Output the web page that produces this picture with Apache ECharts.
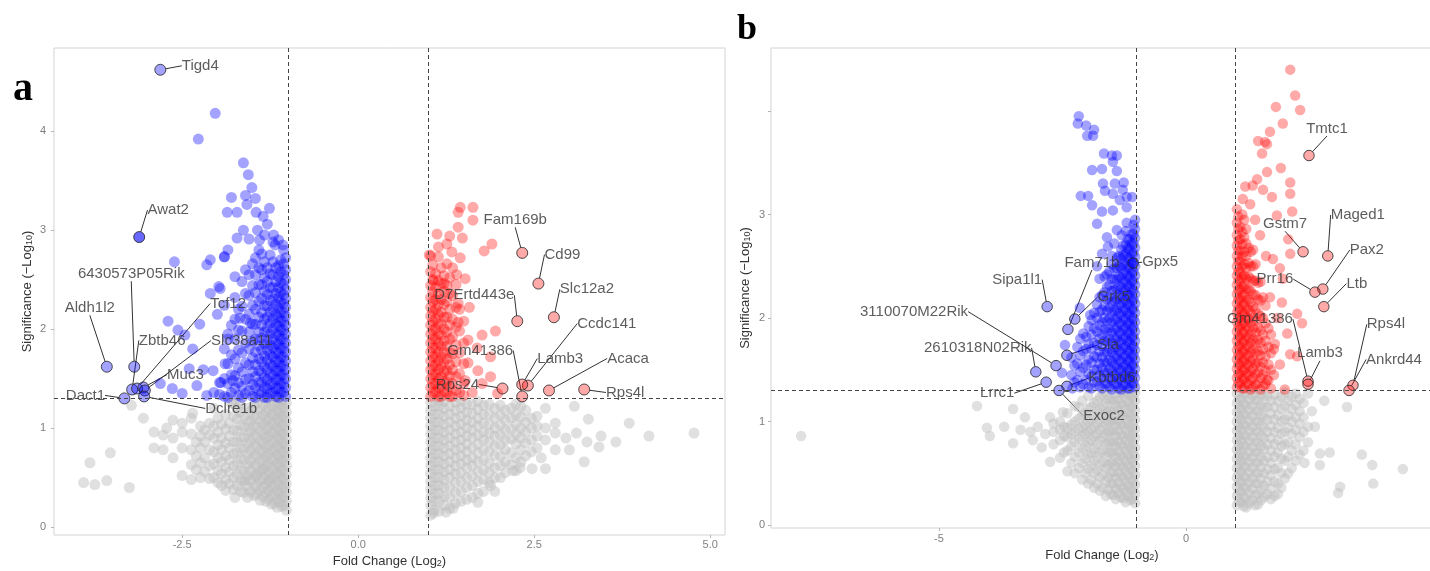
<!DOCTYPE html>
<html>
<head>
<meta charset="utf-8">
<title>Volcano plots</title>
<script src="https://cdn.jsdelivr.net/npm/echarts@6/dist/echarts.min.js"></script>
<style>
  html, body { margin: 0; padding: 0; background: #fff; }
  #chart { width: 1430px; height: 571px; }
</style>
</head>
<body>
<div id="chart"></div>
<script>
// cut-offs
const FC_CUT = 1;     // |log2 fold change|
const P_CUT = 1.3;    // -log10(0.05)

// ---------- panel a ----------
// dense clouds are written as [x, [y, y, ...]] columns
const greyColsA = [
  [-1.02, [0.17, 0.26, 0.35, 0.44, 0.53, 0.62, 0.71, 0.8, 0.89, 0.98, 1.07, 1.16, 1.25]],
  [-1.08, [0.21, 0.3, 0.4, 0.49, 0.58, 0.67, 0.76, 0.85, 0.94, 1.03, 1.12, 1.21, 1.28]],
  [-1.15, [0.2, 0.28, 0.37, 0.46, 0.55, 0.64, 0.73, 0.82, 0.91, 1.0, 1.09, 1.18, 1.26]],
  [-1.23, [0.23, 0.32, 0.41, 0.5, 0.6, 0.69, 0.78, 0.87, 0.96, 1.05, 1.14, 1.23]],
  [-1.31, [0.26, 0.35, 0.44, 0.53, 0.62, 0.71, 0.8, 0.9, 0.99, 1.08, 1.17, 1.27]],
  [-1.39, [0.27, 0.37, 0.47, 0.57, 0.67, 0.77, 0.87, 0.97, 1.07, 1.18]],
  [-1.48, [0.32, 0.42, 0.52, 0.62, 0.72, 0.82, 0.92, 1.02, 1.12, 1.22]],
  [-1.57, [0.3, 0.41, 0.52, 0.63, 0.74, 0.85, 0.96, 1.07, 1.2]],
  [-1.67, [0.36, 0.47, 0.58, 0.69, 0.8, 0.91, 1.03, 1.16]],
  [-1.77, [0.38, 0.5, 0.62, 0.74, 0.86, 0.98, 1.12, 1.25]],
  [-1.88, [0.37, 0.48, 0.6, 0.72, 0.85, 0.99, 1.14]],
  [-1.99, [0.45, 0.57, 0.7, 0.83, 0.96, 1.1]],
  [-2.11, [0.49, 0.62, 0.78, 0.93, 1.05]],
  [-2.24, [0.5, 0.65, 0.8, 0.92, 1.02]],
  [-2.37, [0.48, 0.63, 0.78, 0.94, 1.1]],
  [-2.5, [0.52, 0.8, 0.96, 1.05]],
  [-2.63, [0.7, 0.9, 1.08]],
  [-2.77, [0.78, 0.93]],
  [-2.9, [0.8, 0.96]],
  [1.03, [0.12, 0.22, 0.3, 0.38, 0.46, 0.54, 0.62, 0.7, 0.78, 0.86, 0.94, 1.02, 1.1, 1.18, 1.26]],
  [1.15, [0.16, 0.26, 0.34, 0.42, 0.5, 0.58, 0.66, 0.74, 0.82, 0.9, 0.98, 1.06, 1.14, 1.22, 1.28]],
  [1.3, [0.19, 0.3, 0.4, 0.5, 0.58, 0.66, 0.74, 0.82, 0.9, 0.98, 1.06, 1.14, 1.22]],
  [1.46, [0.26, 0.36, 0.46, 0.55, 0.64, 0.72, 0.8, 0.88, 0.96, 1.04, 1.12, 1.2, 1.27]],
  [1.62, [0.3, 0.42, 0.52, 0.62, 0.7, 0.8, 0.9, 0.98, 1.06, 1.15, 1.24]],
  [1.78, [0.36, 0.48, 0.58, 0.68, 0.78, 0.88, 0.96, 1.05, 1.14, 1.23]],
  [1.94, [0.36, 0.5, 0.6, 0.72, 0.82, 0.92, 1.0, 1.1, 1.2]],
  [2.09, [0.55, 0.66, 0.78, 0.88, 0.98, 1.08, 1.18]],
  [2.24, [0.57, 0.7, 0.84, 0.94, 1.04, 1.14, 1.24]],
  [2.38, [0.72, 0.85, 0.96, 1.06, 1.18]],
  [2.54, [0.8, 0.92, 1.02, 1.12]],
  [2.66, [0.59, 0.88, 1.0, 1.2]],
  [2.8, [0.78, 0.95, 1.05]]
];
const greyColsA2 = [
  [-1.05, [0.22, 0.31, 0.4, 0.49, 0.58, 0.67, 0.76, 0.85, 0.94, 1.03, 1.12, 1.21]],
  [-1.12, [0.25, 0.34, 0.43, 0.52, 0.61, 0.7, 0.79, 0.88, 0.97, 1.06, 1.15, 1.24]],
  [-1.19, [0.24, 0.33, 0.42, 0.51, 0.6, 0.69, 0.78, 0.87, 0.96, 1.05, 1.14, 1.23]],
  [-1.27, [0.28, 0.37, 0.46, 0.55, 0.64, 0.74, 0.83, 0.92, 1.01, 1.1, 1.2]],
  [-1.35, [0.31, 0.4, 0.49, 0.58, 0.67, 0.76, 0.85, 0.94, 1.04, 1.13, 1.23]],
  [-1.44, [0.33, 0.42, 0.52, 0.62, 0.72, 0.82, 0.92, 1.02, 1.13, 1.25]],
  [-1.53, [0.36, 0.47, 0.57, 0.67, 0.77, 0.87, 0.97, 1.07, 1.17]],
  [-1.62, [0.35, 0.46, 0.57, 0.68, 0.79, 0.9, 1.01, 1.12]],
  [-1.72, [0.42, 0.53, 0.64, 0.75, 0.86, 0.97, 1.09, 1.2]],
  [-1.83, [0.44, 0.56, 0.68, 0.8, 0.92, 1.05]],
  [-1.94, [0.42, 0.54, 0.66, 0.78, 0.9, 1.04]],
  [-2.05, [0.5, 0.64, 0.76, 0.9, 1.02]],
  [-2.18, [0.56, 0.7, 0.86, 0.98]],
  [-2.3, [0.58, 0.72, 0.86]],
  [1.08, [0.17, 0.26, 0.34, 0.42, 0.5, 0.58, 0.66, 0.74, 0.82, 0.9, 0.98, 1.06, 1.14, 1.22]],
  [1.22, [0.22, 0.31, 0.4, 0.48, 0.56, 0.64, 0.72, 0.8, 0.88, 0.96, 1.04, 1.12, 1.2, 1.27]],
  [1.38, [0.24, 0.35, 0.45, 0.54, 0.62, 0.7, 0.78, 0.86, 0.94, 1.02, 1.1, 1.18, 1.26]],
  [1.54, [0.28, 0.4, 0.5, 0.6, 0.68, 0.76, 0.84, 0.92, 1.0, 1.08, 1.16, 1.24]],
  [1.7, [0.34, 0.46, 0.56, 0.66, 0.75, 0.84, 0.93, 1.02, 1.1, 1.19, 1.27]],
  [1.86, [0.45, 0.55, 0.65, 0.76, 0.86, 0.95, 1.04, 1.14, 1.24]],
  [2.02, [0.5, 0.62, 0.72, 0.83, 0.93, 1.03, 1.13, 1.23]],
  [2.17, [0.63, 0.75, 0.89, 0.99, 1.1, 1.2]],
  [2.31, [0.66, 0.78, 0.9, 1.0, 1.11, 1.22]],
  [2.46, [0.76, 0.88, 1.0, 1.1]]
];
const greyOutA = [
  [-3.9, 0.45], [-3.74, 0.43], [-3.57, 0.47], [-3.81, 0.65], [-3.52, 0.75], [-3.25, 0.4],
  [-3.22, 1.23], [-3.05, 1.1], [-2.72, 1.0], [-2.35, 1.15], [-2.05, 1.2], [-1.8, 1.25],
  [-1.68, 1.25], [-1.75, 0.3], [-1.6, 0.48], [-1.44, 0.52], [-1.35, 0.58], [-1.26, 0.48],
  [1.07, 0.14], [1.25, 0.15], [1.35, 0.19], [1.7, 0.25], [1.88, 0.42], [2.2, 0.57],
  [2.3, 0.6], [2.47, 0.59], [2.6, 0.7], [2.95, 0.9], [3.0, 0.78], [3.07, 1.22], [3.1, 0.95],
  [3.21, 0.66], [3.25, 0.86], [3.27, 1.09], [3.42, 0.81], [3.45, 0.92], [3.66, 0.86],
  [3.85, 1.05], [4.13, 0.92], [4.77, 0.95]
];
const blueColsA = [
  [-1.03, [1.32, 1.41, 1.5, 1.59, 1.68, 1.77, 1.86, 1.95, 2.04, 2.13, 2.22, 2.31, 2.4, 2.5, 2.6, 2.72]],
  [-1.1, [1.36, 1.45, 1.54, 1.63, 1.72, 1.81, 1.9, 1.99, 2.08, 2.17, 2.27, 2.37, 2.47, 2.58, 2.7]],
  [-1.17, [1.32, 1.4, 1.49, 1.58, 1.67, 1.76, 1.85, 1.95, 2.05, 2.15, 2.25, 2.36, 2.48, 2.62]],
  [-1.25, [1.35, 1.44, 1.54, 1.64, 1.74, 1.84, 1.95, 2.06, 2.17, 2.29, 2.42, 2.56, 2.75]],
  [-1.33, [1.31, 1.41, 1.51, 1.62, 1.73, 1.85, 1.97, 2.1, 2.24, 2.38, 2.52, 2.68, 2.95]],
  [-1.41, [1.35, 1.46, 1.58, 1.7, 1.83, 1.97, 2.12, 2.28, 2.45, 2.62, 2.8]],
  [-1.5, [1.32, 1.44, 1.57, 1.71, 1.88, 2.05, 2.24, 2.44, 2.66]],
  [-1.6, [1.35, 1.49, 1.66, 1.86, 2.1, 2.36, 2.6]],
  [-1.7, [1.33, 1.46, 1.61, 1.79, 1.99, 2.2]],
  [-1.8, [1.36, 1.54, 1.74, 2.04]],
  [-1.9, [1.32, 1.5, 1.8, 2.24]],
  [-1.97, [1.34, 1.46]]
];
const blueColsA2 = [
  [-1.06, [1.36, 1.45, 1.54, 1.63, 1.72, 1.81, 1.9, 1.99, 2.08, 2.17, 2.26, 2.35, 2.45, 2.55, 2.66, 2.8]],
  [-1.13, [1.31, 1.4, 1.49, 1.58, 1.67, 1.76, 1.85, 1.94, 2.03, 2.12, 2.22, 2.32, 2.42, 2.53, 2.64, 2.9]],
  [-1.21, [1.36, 1.45, 1.54, 1.63, 1.72, 1.81, 1.9, 2.0, 2.1, 2.2, 2.31, 2.42, 2.55, 2.68, 2.88]],
  [-1.29, [1.31, 1.4, 1.49, 1.59, 1.69, 1.79, 1.9, 2.01, 2.12, 2.23, 2.35, 2.48, 2.62]],
  [-1.37, [1.36, 1.46, 1.56, 1.67, 1.79, 1.91, 2.04, 2.17, 2.31, 2.45, 2.6, 2.76]],
  [-1.46, [1.31, 1.41, 1.52, 1.64, 1.77, 1.9, 2.05, 2.2, 2.37, 2.55, 2.72]],
  [-1.55, [1.38, 1.5, 1.64, 1.8, 1.97, 2.15, 2.34, 2.55]],
  [-1.65, [1.31, 1.42, 1.57, 1.76, 1.98, 2.23, 2.48]],
  [-1.75, [1.4, 1.53, 1.7, 1.9, 2.1]],
  [-1.85, [1.31, 1.45, 1.65, 1.9]]
];
const blueOutA = [
  [-2.03, 4.18], [-2.27, 3.92], [-1.63, 3.68], [-1.56, 3.56], [-1.51, 3.43], [-1.8, 3.33],
  [-1.6, 3.35], [-1.46, 3.32], [-1.58, 3.26], [-1.26, 3.22], [-1.86, 3.18], [-1.72, 3.18],
  [-1.45, 3.18], [-1.35, 3.14], [-1.63, 3.0], [-1.55, 2.91], [-1.72, 2.92], [-1.43, 3.0],
  [-1.29, 3.06], [-1.18, 2.85], [-1.07, 2.85], [-1.2, 2.95], [-1.4, 2.9], [-1.85, 2.8],
  [-1.9, 2.73], [-1.9, 2.73], [-2.1, 2.7], [-2.15, 2.65], [-2.61, 2.68], [-1.75, 2.53],
  [-1.98, 2.43], [-3.11, 2.93], [-2.7, 2.08], [-2.56, 1.99], [-2.46, 1.94], [-2.81, 1.45],
  [-2.64, 1.4], [-2.5, 1.35], [-2.29, 1.43], [-2.2, 1.59], [-2.06, 1.58], [-1.89, 1.65],
  [-2.15, 1.33], [-2.1, 2.36], [-1.96, 2.41], [-1.75, 2.32], [-1.68, 2.11], [-1.53, 2.06],
  [-1.95, 1.46], [-1.78, 1.48], [-2.35, 1.8], [-2.25, 2.05], [-2.0, 2.15], [-1.85, 1.95],
  [-2.4, 1.6], [-2.05, 1.36]
];
const redColsA = [
  [1.03, [1.32, 1.41, 1.5, 1.59, 1.68, 1.77, 1.86, 1.95, 2.04, 2.13, 2.22, 2.32, 2.44, 2.58, 2.74]],
  [1.1, [1.36, 1.45, 1.54, 1.63, 1.72, 1.81, 1.9, 2.0, 2.1, 2.2, 2.3, 2.42, 2.56]],
  [1.18, [1.32, 1.42, 1.52, 1.62, 1.72, 1.83, 1.94, 2.05, 2.17, 2.3, 2.46, 2.62]],
  [1.26, [1.36, 1.47, 1.58, 1.7, 1.83, 1.97, 2.12, 2.28, 2.44, 2.86]],
  [1.34, [1.32, 1.45, 1.59, 1.75, 1.92, 2.1, 2.34, 2.62]],
  [1.44, [1.36, 1.55, 1.76, 1.98, 2.2]]
];
const redColsA2 = [
  [1.06, [1.36, 1.45, 1.54, 1.63, 1.72, 1.81, 1.9, 1.99, 2.08, 2.18, 2.28, 2.38, 2.5, 2.65]],
  [1.14, [1.32, 1.41, 1.5, 1.59, 1.68, 1.77, 1.86, 1.95, 2.05, 2.15, 2.25, 2.36, 2.49, 2.83]],
  [1.22, [1.37, 1.47, 1.57, 1.67, 1.77, 1.88, 2.0, 2.12, 2.25, 2.38, 2.54]],
  [1.3, [1.32, 1.42, 1.53, 1.64, 1.76, 1.9, 2.04, 2.2, 2.36, 2.52]],
  [1.39, [1.38, 1.52, 1.67, 1.84, 2.02, 2.22, 2.45]],
  [1.5, [1.33, 1.45, 1.65, 1.86, 2.08]]
];
const redOutA = [
  [1.63, 3.23], [1.45, 3.23], [1.42, 3.18], [1.63, 3.1], [1.42, 3.03], [1.12, 2.96], [1.3, 2.94],
  [1.48, 2.92], [1.9, 2.86], [1.79, 2.79], [1.01, 2.75], [1.14, 2.73], [1.33, 2.78], [1.45, 2.72],
  [1.26, 2.66], [1.4, 2.55], [1.52, 2.51], [1.07, 2.49], [1.22, 2.46], [1.42, 2.26], [1.58, 2.22],
  [1.42, 2.07], [1.56, 1.89], [1.76, 1.94], [1.95, 1.98], [1.69, 1.81], [1.88, 1.72], [1.56, 1.66],
  [1.76, 1.45], [1.88, 1.52], [1.62, 1.36], [1.98, 1.35], [1.7, 1.58], [1.52, 1.48]
];
const downNamesA = ['Tigd4', 'Awat2', '6430573P05Rik', 'Aldh1l2', 'Zbtb46', 'Tcf12', 'Muc3', 'Slc38a11', 'Dact1', 'Dclre1b'];
const downValsA = [[-2.81, 4.62], [-3.11, 2.93], [-3.18, 1.62], [-3.57, 1.62], [-3.21, 1.39], [-3.14, 1.4], [-3.05, 1.41], [-3.03, 1.38], [-3.32, 1.3], [-3.04, 1.32]];
const upNamesA = ['Fam169b', 'Cd99', 'Slc12a2', 'D7Ertd443e', 'Ccdc141', 'Gm41386', 'Lamb3', 'Acaca', 'Rps4l', 'Rps24'];
const upValsA = [[2.33, 2.77], [2.56, 2.46], [2.78, 2.12], [2.26, 2.08], [2.41, 1.43], [2.33, 1.32], [2.33, 1.44], [2.71, 1.38], [3.21, 1.39], [2.05, 1.4]];
const xTicksA = [-2.5, 0, 2.5, 5];
const yTicksA = [0, 1, 2, 3, 4];

// ---------- panel b ----------
const greyColsB = [
  [-1.03, [0.21, 0.3, 0.39, 0.48, 0.57, 0.66, 0.75, 0.84, 0.93, 1.02, 1.11, 1.2, 1.28]],
  [-1.12, [0.24, 0.34, 0.44, 0.54, 0.64, 0.74, 0.84, 0.94, 1.04, 1.14, 1.24]],
  [-1.22, [0.22, 0.32, 0.42, 0.52, 0.62, 0.72, 0.82, 0.92, 1.02, 1.12, 1.22]],
  [-1.32, [0.27, 0.37, 0.47, 0.57, 0.67, 0.77, 0.87, 0.97, 1.07, 1.17, 1.27]],
  [-1.42, [0.25, 0.35, 0.46, 0.56, 0.66, 0.76, 0.86, 0.96, 1.06, 1.16, 1.26]],
  [-1.52, [0.3, 0.4, 0.5, 0.6, 0.7, 0.8, 0.9, 1.0, 1.1, 1.2]],
  [-1.62, [0.28, 0.42, 0.55, 0.66, 0.78, 0.88, 0.98, 1.08, 1.18, 1.28]],
  [-1.74, [0.33, 0.46, 0.58, 0.7, 0.82, 0.92, 1.02, 1.12, 1.24]],
  [-1.86, [0.36, 0.5, 0.62, 0.74, 0.86, 0.95, 1.05, 1.18]],
  [-1.98, [0.4, 0.54, 0.68, 0.8, 0.9, 1.0, 1.12, 1.25]],
  [-2.1, [0.44, 0.6, 0.74, 0.86, 0.95, 1.06, 1.2]],
  [-2.25, [0.5, 0.66, 0.8, 0.9, 1.0, 1.15]],
  [-2.4, [0.52, 0.72, 0.85, 0.94, 1.08]],
  [-2.55, [0.65, 0.82, 0.92, 1.0]],
  [-2.68, [0.78, 0.9, 0.98]],
  [1.03, [0.19, 0.28, 0.37, 0.46, 0.55, 0.64, 0.73, 0.82, 0.91, 1.0, 1.09, 1.18, 1.27]],
  [1.12, [0.22, 0.32, 0.42, 0.52, 0.62, 0.72, 0.82, 0.92, 1.02, 1.12, 1.22]],
  [1.22, [0.17, 0.26, 0.36, 0.46, 0.56, 0.66, 0.76, 0.86, 0.96, 1.06, 1.16, 1.26]],
  [1.34, [0.24, 0.35, 0.45, 0.55, 0.65, 0.75, 0.85, 0.95, 1.05, 1.15, 1.25]],
  [1.46, [0.2, 0.3, 0.4, 0.5, 0.6, 0.7, 0.8, 0.9, 1.0, 1.1, 1.2]],
  [1.58, [0.27, 0.38, 0.5, 0.62, 0.74, 0.84, 0.94, 1.04, 1.14, 1.25]],
  [1.72, [0.25, 0.35, 0.48, 0.6, 0.72, 0.84, 0.96, 1.08, 1.2]],
  [1.86, [0.3, 0.4, 0.55, 0.7, 0.82, 0.94, 1.06, 1.2]],
  [2.0, [0.45, 0.62, 0.78, 0.9, 1.02, 1.15, 1.28]],
  [2.14, [0.55, 0.72, 0.88, 1.0, 1.12, 1.24]],
  [2.3, [0.68, 0.85, 0.98, 1.1, 1.22]],
  [2.47, [0.8, 0.95, 1.27]]
];
const greyColsB2 = [
  [-1.07, [0.25, 0.34, 0.43, 0.52, 0.61, 0.7, 0.79, 0.88, 0.97, 1.06, 1.15, 1.24]],
  [-1.17, [0.28, 0.38, 0.48, 0.58, 0.68, 0.78, 0.88, 0.98, 1.08, 1.18, 1.27]],
  [-1.27, [0.26, 0.36, 0.46, 0.56, 0.66, 0.76, 0.86, 0.96, 1.06, 1.16, 1.26]],
  [-1.37, [0.31, 0.41, 0.51, 0.61, 0.71, 0.81, 0.91, 1.01, 1.11, 1.21]],
  [-1.47, [0.29, 0.4, 0.51, 0.61, 0.71, 0.81, 0.91, 1.01, 1.11, 1.21]],
  [-1.57, [0.34, 0.46, 0.58, 0.7, 0.8, 0.9, 1.0, 1.1, 1.22]],
  [-1.68, [0.36, 0.49, 0.61, 0.73, 0.85, 0.95, 1.05, 1.15, 1.26]],
  [-1.8, [0.4, 0.53, 0.66, 0.78, 0.88, 0.98, 1.1, 1.2]],
  [-1.92, [0.44, 0.58, 0.7, 0.82, 0.92, 1.02, 1.14]],
  [-2.04, [0.5, 0.64, 0.77, 0.88, 0.97, 1.08]],
  [-2.17, [0.55, 0.7, 0.83, 0.93, 1.03, 1.14]],
  [-2.32, [0.6, 0.76, 0.88, 0.97]],
  [-2.47, [0.7, 0.86, 0.95]],
  [1.07, [0.23, 0.32, 0.41, 0.5, 0.59, 0.68, 0.77, 0.86, 0.95, 1.04, 1.13, 1.22]],
  [1.17, [0.18, 0.27, 0.37, 0.47, 0.57, 0.67, 0.77, 0.87, 0.97, 1.07, 1.17, 1.27]],
  [1.28, [0.21, 0.31, 0.41, 0.51, 0.61, 0.71, 0.81, 0.91, 1.01, 1.11, 1.21]],
  [1.4, [0.19, 0.29, 0.4, 0.5, 0.6, 0.7, 0.8, 0.9, 1.0, 1.1, 1.2, 1.28]],
  [1.52, [0.24, 0.34, 0.45, 0.56, 0.66, 0.76, 0.86, 0.96, 1.06, 1.16, 1.26]],
  [1.65, [0.3, 0.42, 0.54, 0.66, 0.78, 0.9, 1.02, 1.14, 1.24]],
  [1.79, [0.28, 0.42, 0.54, 0.66, 0.78, 0.9, 1.02, 1.14, 1.26]],
  [1.93, [0.36, 0.5, 0.64, 0.76, 0.88, 1.0, 1.12, 1.24]],
  [2.07, [0.5, 0.66, 0.8, 0.94, 1.06, 1.2]],
  [2.22, [0.62, 0.78, 0.92, 1.04, 1.16, 1.27]],
  [2.38, [0.72, 0.9, 1.04, 1.18]]
];
const greyOutB = [
  [-7.79, 0.86], [-4.23, 1.15], [-4.03, 0.94], [-3.97, 0.86], [-3.68, 0.95], [-3.5, 1.12],
  [-3.5, 0.79], [-3.26, 1.04], [-3.35, 0.92], [-3.15, 0.9], [-3.0, 0.95], [-2.92, 0.75],
  [-2.85, 0.88], [-3.1, 0.82], [-2.75, 0.61], [-2.75, 1.04], [-2.49, 1.09],
  [2.55, 1.1], [2.61, 0.95], [2.8, 1.2], [2.4, 0.6], [2.71, 0.69], [2.71, 0.58], [2.91, 0.7],
  [3.12, 0.37], [3.08, 0.31], [3.26, 1.14], [3.56, 0.68], [3.77, 0.58], [3.79, 0.4], [4.39, 0.54]
];
const blueColsB = [
  [-1.03, [1.33, 1.42, 1.51, 1.6, 1.69, 1.78, 1.87, 1.96, 2.05, 2.14, 2.23, 2.32, 2.41, 2.5, 2.59, 2.68, 2.77, 2.86]],
  [-1.1, [1.37, 1.46, 1.55, 1.64, 1.73, 1.82, 1.91, 2.0, 2.09, 2.18, 2.27, 2.36, 2.45, 2.54, 2.63, 2.72, 2.81]],
  [-1.18, [1.32, 1.41, 1.5, 1.59, 1.68, 1.77, 1.86, 1.95, 2.04, 2.13, 2.22, 2.31, 2.4, 2.49, 2.58, 2.67, 2.76]],
  [-1.27, [1.35, 1.44, 1.53, 1.62, 1.71, 1.8, 1.89, 1.98, 2.07, 2.16, 2.25, 2.34, 2.43, 2.52, 2.61, 2.7]],
  [-1.36, [1.32, 1.41, 1.5, 1.59, 1.68, 1.77, 1.86, 1.95, 2.04, 2.13, 2.22, 2.31, 2.4, 2.5, 2.6]],
  [-1.45, [1.36, 1.45, 1.54, 1.63, 1.72, 1.81, 1.9, 1.99, 2.08, 2.17, 2.27, 2.37, 2.48]],
  [-1.55, [1.33, 1.42, 1.51, 1.6, 1.7, 1.8, 1.9, 2.0, 2.1, 2.2, 2.32, 2.45]],
  [-1.65, [1.37, 1.47, 1.57, 1.67, 1.78, 1.89, 2.0, 2.12, 2.25, 2.4]],
  [-1.75, [1.34, 1.45, 1.56, 1.68, 1.8, 1.93, 2.06, 2.2]],
  [-1.86, [1.38, 1.5, 1.63, 1.76, 1.9, 2.05]],
  [-1.97, [1.33, 1.46, 1.6, 1.75, 1.92]],
  [-2.08, [1.36, 1.52, 1.68, 1.85]],
  [-2.2, [1.4, 1.56, 1.72]],
  [-2.32, [1.45, 1.62]]
];
const blueColsB2 = [
  [-1.06, [1.37, 1.46, 1.55, 1.64, 1.73, 1.82, 1.91, 2.0, 2.09, 2.18, 2.27, 2.36, 2.45, 2.54, 2.63, 2.72, 2.81, 2.9]],
  [-1.14, [1.32, 1.41, 1.5, 1.59, 1.68, 1.77, 1.86, 1.95, 2.04, 2.13, 2.22, 2.31, 2.4, 2.49, 2.58, 2.67, 2.76]],
  [-1.22, [1.36, 1.45, 1.54, 1.63, 1.72, 1.81, 1.9, 1.99, 2.08, 2.17, 2.26, 2.35, 2.44, 2.53, 2.62, 2.71, 2.84]],
  [-1.31, [1.31, 1.4, 1.49, 1.58, 1.67, 1.76, 1.85, 1.94, 2.03, 2.12, 2.21, 2.3, 2.39, 2.48, 2.57, 2.66]],
  [-1.4, [1.36, 1.45, 1.54, 1.63, 1.72, 1.81, 1.9, 1.99, 2.08, 2.18, 2.28, 2.38, 2.48, 2.58]],
  [-1.5, [1.31, 1.4, 1.49, 1.58, 1.67, 1.76, 1.86, 1.96, 2.06, 2.16, 2.26, 2.38, 2.52]],
  [-1.6, [1.37, 1.47, 1.57, 1.67, 1.77, 1.87, 1.97, 2.07, 2.18, 2.3, 2.42]],
  [-1.7, [1.32, 1.42, 1.52, 1.62, 1.73, 1.84, 1.96, 2.08, 2.22]],
  [-1.8, [1.39, 1.5, 1.62, 1.74, 1.87, 2.0, 2.13]],
  [-1.91, [1.32, 1.44, 1.57, 1.7, 1.84, 1.98]],
  [-2.02, [1.4, 1.55, 1.7, 1.82]],
  [-2.14, [1.33, 1.48, 1.64, 1.8]],
  [-2.26, [1.38, 1.54]]
];
const blueOutB = [
  [-2.17, 3.95], [-2.19, 3.88], [-2.02, 3.86], [-1.86, 3.82], [-2.0, 3.76], [-1.88, 3.76],
  [-1.66, 3.59], [-1.5, 3.57], [-1.4, 3.57], [-1.48, 3.51], [-1.9, 3.43], [-1.7, 3.44],
  [-1.4, 3.42], [-1.68, 3.3], [-1.44, 3.3], [-1.26, 3.31], [-1.64, 3.23], [-2.13, 3.18],
  [-1.98, 3.18], [-1.28, 3.24], [-1.48, 3.2], [-1.34, 3.14], [-1.2, 3.17], [-1.09, 3.17],
  [-1.9, 3.09], [-1.7, 3.03], [-1.48, 3.04], [-1.2, 3.07], [-1.8, 2.91], [-1.6, 2.78],
  [-1.4, 2.85], [-1.2, 2.92], [-1.03, 2.95], [-1.58, 2.69], [-1.8, 2.5], [-1.7, 2.62],
  [-1.75, 2.38], [-1.5, 2.6], [-1.45, 2.72], [-1.3, 2.8], [-2.45, 1.74], [-2.51, 1.47],
  [-2.15, 2.1], [-1.94, 2.03], [-2.3, 1.32]
];
const redColsB = [
  [1.03, [1.33, 1.42, 1.51, 1.6, 1.69, 1.78, 1.87, 1.96, 2.05, 2.14, 2.23, 2.32, 2.41, 2.5, 2.6, 2.7, 2.8, 2.92, 3.05]],
  [1.1, [1.37, 1.46, 1.55, 1.64, 1.73, 1.82, 1.91, 2.0, 2.09, 2.18, 2.27, 2.36, 2.45, 2.55, 2.65, 2.76, 2.88]],
  [1.18, [1.32, 1.41, 1.5, 1.59, 1.68, 1.77, 1.86, 1.95, 2.04, 2.13, 2.22, 2.31, 2.41, 2.52, 2.64, 2.78, 2.95]],
  [1.27, [1.36, 1.45, 1.54, 1.63, 1.72, 1.81, 1.9, 1.99, 2.08, 2.18, 2.28, 2.4, 2.53, 2.68]],
  [1.36, [1.33, 1.42, 1.51, 1.6, 1.7, 1.8, 1.9, 2.0, 2.11, 2.23, 2.36, 2.5, 2.66]],
  [1.46, [1.37, 1.47, 1.57, 1.68, 1.79, 1.91, 2.04, 2.18, 2.34]],
  [1.56, [1.34, 1.45, 1.57, 1.7, 1.84, 2.0, 2.2]],
  [1.67, [1.4, 1.55, 1.72, 1.9]],
  [1.78, [1.45, 1.7]]
];
const redColsB2 = [
  [1.06, [1.37, 1.46, 1.55, 1.64, 1.73, 1.82, 1.91, 2.0, 2.09, 2.18, 2.27, 2.36, 2.45, 2.55, 2.65, 2.75, 2.86, 2.98]],
  [1.14, [1.32, 1.41, 1.5, 1.59, 1.68, 1.77, 1.86, 1.95, 2.04, 2.13, 2.22, 2.31, 2.4, 2.5, 2.6, 2.71, 2.83, 3.0]],
  [1.22, [1.37, 1.46, 1.55, 1.64, 1.73, 1.82, 1.91, 2.0, 2.09, 2.18, 2.28, 2.38, 2.48, 2.6, 2.72, 2.86]],
  [1.31, [1.31, 1.4, 1.49, 1.58, 1.67, 1.76, 1.85, 1.95, 2.05, 2.15, 2.26, 2.38, 2.5, 2.64]],
  [1.41, [1.36, 1.46, 1.56, 1.66, 1.76, 1.86, 1.97, 2.09, 2.22, 2.36, 2.52]],
  [1.51, [1.31, 1.42, 1.53, 1.64, 1.76, 1.88, 2.02, 2.17, 2.35]],
  [1.61, [1.36, 1.49, 1.63, 1.78, 1.95, 2.12]],
  [1.72, [1.32, 1.5, 1.66, 1.84]]
];
const redOutB = [
  [2.11, 4.4], [2.21, 4.15], [2.31, 4.01], [1.82, 4.04], [1.96, 3.88], [1.7, 3.8], [1.46, 3.71],
  [1.64, 3.68], [1.54, 3.59], [1.6, 3.7], [1.92, 3.45], [1.64, 3.41], [1.44, 3.34], [1.2, 3.27],
  [1.35, 3.28], [1.56, 3.24], [2.11, 3.31], [2.11, 3.2], [1.74, 3.17], [1.15, 3.15], [2.15, 3.03],
  [1.3, 3.1], [1.84, 2.99], [2.07, 2.76], [2.11, 2.62], [1.76, 2.57], [1.9, 2.48], [1.96, 2.38],
  [1.94, 2.15], [2.25, 2.04], [2.35, 1.95], [2.11, 1.65], [2.25, 1.63], [1.9, 1.55], [1.64, 1.4],
  [2.0, 1.31], [1.7, 2.2], [1.85, 2.0], [1.62, 2.6], [1.5, 2.8], [1.4, 2.95], [1.8, 1.75], [2.05, 1.85]
];
const downNamesB = ['Sipa1l1', 'Fam71b', 'Grk5', 'Gpx5', '3110070M22Rik', '2610318N02Rik', 'Lrrc1', 'Sla', 'Kbtbd6', 'Exoc2'];
const downValsB = [[-2.81, 2.11], [-2.39, 1.89], [-2.25, 1.99], [-1.07, 2.53], [-2.63, 1.54], [-3.04, 1.48], [-2.83, 1.38], [-2.41, 1.64], [-2.41, 1.34], [-2.57, 1.3]];
const upNamesB = ['Tmtc1', 'Gstm7', 'Maged1', 'Pax2', 'Prr16', 'Ltb', 'Gm41386', 'Lamb3', 'Rps4l', 'Ankrd44'];
const upValsB = [[2.49, 3.57], [2.37, 2.64], [2.87, 2.6], [2.77, 2.28], [2.61, 2.25], [2.79, 2.11], [2.47, 1.39], [2.47, 1.36], [3.38, 1.35], [3.3, 1.3]];
const xTicksB = [-5, 0];
const yTicksB = [0, 1, 2, 3, 4];

// label offsets in pixels from each point (ggrepel-like placement)
const shiftA = {
  Tigd4: [40, -4], Awat2: [29, -27], '6430573P05Rik': [-3, -93], Aldh1l2: [-17, -59],
  Zbtb46: [30, -49], Tcf12: [91, -85], Muc3: [42, -13], Slc38a11: [97, -50], Dact1: [-39, -3],
  Dclre1b: [87, 12], Fam169b: [-7, -33], Cd99: [24, -29], Slc12a2: [33, -28], D7Ertd443e: [-43, -26],
  Ccdc141: [79, -62], Gm41386: [-42, -46], Lamb3: [38, -26], Acaca: [79, -32], Rps4l: [41, 3], Rps24: [-45, -4]
};
const shiftB = {
  Sipa1l1: [-30, -27], Fam71b: [24, -67], Grk5: [39, -22], Gpx5: [27, -1], '3110070M22Rik': [-142, -54],
  '2610318N02Rik': [-58, -24], Lrrc1: [-49, 11], Sla: [41, -10], Kbtbd6: [45, -8], Exoc2: [45, 25],
  Tmtc1: [18, -27], Gstm7: [-18, -28], Maged1: [30, -41], Pax2: [44, -39], Prr16: [-40, -13],
  Ltb: [33, -23], Gm41386: [-48, -62], Lamb3: [12, -31], Rps4l: [33, -61], Ankrd44: [45, -31]
};

const FONT = '"Liberation Sans", Arial, sans-serif';
const GREY = 'rgba(190,190,190,0.6)';
const BLUE = 'rgba(0,0,255,0.45)';
const RED = 'rgba(255,0,0,0.42)';

const flat = cols => cols.flatMap(([x, ys]) => ys.map(y => [x, y]));

const cutLines = {
  silent: true,
  symbol: 'none',
  animation: false,
  label: { show: false },
  lineStyle: { type: [4, 3], color: '#444', width: 1 },
  data: [{ xAxis: -FC_CUT }, { xAxis: FC_CUT }, { yAxis: P_CUT }]
};

function dots(idx, data, color, size, extra) {
  return Object.assign({
    type: 'scatter',
    xAxisIndex: idx,
    yAxisIndex: idx,
    data: data,
    symbolSize: size,
    silent: true,
    itemStyle: { color: color }
  }, extra || {});
}

function genes(idx, names, vals, color, size, shift) {
  return {
    type: 'scatter',
    xAxisIndex: idx,
    yAxisIndex: idx,
    symbolSize: size,
    silent: true,
    data: names.map((n, i) => ({ name: n, value: vals[i] })),
    itemStyle: { color: color, borderColor: '#222', borderWidth: 1 },
    label: {
      show: true, position: 'inside', formatter: '{b}',
      color: '#333', fontSize: 15, fontFamily: FONT
    },
    labelLine: { show: true, lineStyle: { color: '#333', width: 1 } },
    labelLayout: p => {
      const d = shift[names[p.dataIndex]];
      return {
        x: p.rect.x + p.rect.width / 2 + d[0],
        y: p.rect.y + p.rect.height / 2 + d[1],
        align: 'center',
        verticalAlign: 'middle'
      };
    }
  };
}

const tickText = { color: '#7f7f7f', fontSize: 11, fontFamily: FONT };
const nameText = {
  color: '#333', fontSize: 13, fontFamily: FONT,
  rich: { s: { fontSize: 9, fontFamily: FONT, color: '#333', verticalAlign: 'bottom' } }
};
const tick = vals => ({ show: true, length: 3, lineStyle: { color: '#b5b5b5' }, customValues: vals });
const noLine = { show: false, onZero: false };

const chart = echarts.init(document.getElementById('chart'));
chart.setOption({
  animation: false,
  backgroundColor: '#fff',
  grid: [
    { left: 54, top: 48, right: 705, bottom: 36, show: true, borderColor: '#d4d4d4', borderWidth: 1, containLabel: false, outerBoundsMode: 'none' },
    { left: 771, top: 48, right: -3, bottom: 43, show: true, borderColor: '#d4d4d4', borderWidth: 1, containLabel: false, outerBoundsMode: 'none' }
  ],
  xAxis: [
    {
      gridIndex: 0, type: 'value', min: -4.32, max: 5.21,
      name: 'Fold Change (Log{s|2})', nameLocation: 'middle', nameGap: 20, nameTextStyle: nameText,
      axisLine: noLine, splitLine: { show: false }, axisTick: tick(xTicksA),
      axisLabel: Object.assign({ margin: 4, customValues: xTicksA, formatter: v => v.toFixed(1) }, tickText)
    },
    {
      gridIndex: 1, type: 'value', min: -8.4, max: 5.0,
      name: 'Fold Change (Log{s|2})', nameLocation: 'middle', nameGap: 19, nameTextStyle: nameText,
      axisLine: noLine, splitLine: { show: false }, axisTick: tick(xTicksB),
      axisLabel: Object.assign({ margin: 5, customValues: xTicksB, formatter: v => String(v) }, tickText)
    }
  ],
  yAxis: [
    {
      gridIndex: 0, type: 'value', min: -0.08, max: 4.84,
      name: 'Significance (\u2212Log{s|10})', nameLocation: 'middle', nameGap: 20, nameTextStyle: nameText,
      axisLine: noLine, splitLine: { show: false }, axisTick: tick(yTicksA),
      axisLabel: Object.assign({ margin: 8, customValues: yTicksA }, tickText)
    },
    {
      gridIndex: 1, type: 'value', min: -0.029, max: 4.609,
      name: 'Significance (\u2212Log{s|10})', nameLocation: 'middle', nameGap: 19, nameTextStyle: nameText,
      axisLine: noLine, splitLine: { show: false }, axisTick: tick(yTicksB),
      axisLabel: Object.assign({ margin: 6, customValues: yTicksB, formatter: v => (v === 4 ? '' : String(v)) }, tickText)
    }
  ],
  graphic: [
    { type: 'text', x: 13, y: 90, style: { text: 'a', font: 'bold 40px "Liberation Serif", "DejaVu Serif", serif', fill: '#000', verticalAlign: 'middle' } },
    { type: 'text', x: 737, y: 30, style: { text: 'b', font: 'bold 36px "Liberation Serif", "DejaVu Serif", serif', fill: '#000', verticalAlign: 'middle' } }
  ],
  series: [
    dots(0, flat(greyColsA).concat(flat(greyColsA2), greyOutA), GREY, 11, { markLine: cutLines }),
    dots(0, flat(blueColsA).concat(flat(blueColsA2), blueOutA), BLUE, 11),
    dots(0, flat(redColsA).concat(flat(redColsA2), redOutA), RED, 11),
    genes(0, downNamesA, downValsA, BLUE, 11, shiftA),
    genes(0, upNamesA, upValsA, RED, 11, shiftA),
    dots(1, flat(greyColsB).concat(flat(greyColsB2), greyOutB), GREY, 10.5, { markLine: cutLines }),
    dots(1, flat(blueColsB).concat(flat(blueColsB2), blueOutB), BLUE, 10.5),
    dots(1, flat(redColsB).concat(flat(redColsB2), redOutB), RED, 10.5),
    genes(1, downNamesB, downValsB, BLUE, 10.5, shiftB),
    genes(1, upNamesB, upValsB, RED, 10.5, shiftB)
  ]
});
</script>
</body>
</html>
